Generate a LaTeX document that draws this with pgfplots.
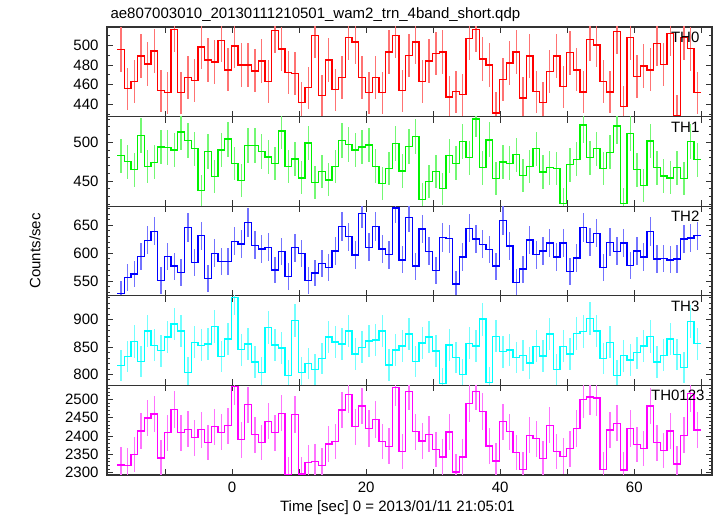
\documentclass[border=0pt]{standalone}
\usepackage{fontspec}
\setmainfont{Liberation Sans}
\usepackage{pgfplots}
\usepackage{pgfplotstable}
\pgfplotsset{compat=1.18}

% 1 s bins, t = left edge of each bin; last row repeats the last bin to close the step
\pgfplotstableread{
t a b c d e
-17.1 495.6 482.5 528 816 2321
-16.1 456 475 557 833 2319.5
-15.1 463 464.5 563 860 2349
-14.1 489 509 594.5 823.5 2414
-13.1 481 468.5 623 879 2449
-12.1 494 474 639 853 2460
-11.1 454 494 551 843 2340
-10.1 452 493 594.5 868 2409
-9.1 516 490 577 892 2472
-8.1 452 513 565 879 2409
-7.1 467 502 646 804 2418.5
-6.1 464 491.5 583 858.5 2395
-5.1 498 437.5 631 853 2417
-4.1 485 488 554.5 855.5 2382.5
-3.1 483 455.5 600 887.5 2425
-2.1 505 490 585 833 2410
-1.1 475 504 585 864.5 2428
-0.1 499 472.5 621 940 2535
0.9 480 451 616.5 845 2390
1.9 480 495.5 655 855.5 2485
2.9 474 495.5 614 822.5 2403.5
3.9 484 488 607.5 804 2382.5
4.9 463 481 610.5 886 2440
5.9 515 472.5 570 853.5 2409
6.9 496 514.5 603 848 2462
7.9 472 468.5 558.5 798.5 2295
8.9 471 478.5 609.5 898.5 2459
9.9 442 454 599 804 2296
10.9 457 499 551.5 820 2327
11.9 510 448.5 564.5 809 2329.5
12.9 449 462 582 829 2320
13.9 485 451.5 575 868 2378.5
14.9 455 468.5 604 859 2385
15.9 467 502 648 855.5 2471
16.9 508 497 629.5 879 2513
17.9 503 490 596.5 837 2425
18.9 467 494 671 849.5 2481.5
19.9 452 496.5 610.5 861 2420.5
20.9 467 469 648 863 2445
21.9 452 446.5 607.5 879 2385
22.9 493 466 597 817 2372
23.9 510 498 680.5 844.5 2531.5
24.9 454 463 588 852 2358
25.9 489.5 494.5 664 874 2522
26.9 503 507 577 824 2412
27.9 463 426.5 643 857.5 2386
28.9 484 449.5 603.5 868 2404.5
29.9 491.5 462 569 842.5 2363
30.9 493 440 628 783 2342.5
31.9 447.5 482.5 626 853.5 2411
32.9 453 473 545 831 2302
33.9 450 501 593 799.5 2342.5
34.9 507 480 644.5 857 2488
35.9 516 530 625 852 2522
36.9 486 467 616 901 2466.5
37.9 480 503 606.5 785 2373
38.9 431.5 453 577 869.5 2331.5
39.9 465 474.5 658 841.5 2439
40.9 482 473 612.5 844.5 2412
41.9 493 484 547.5 831 2355.5
42.9 446.5 457 571.5 834.5 2309
43.9 489 468.5 623.5 820.5 2402
44.9 453 491.5 597 851 2392.5
45.9 442 461.5 604 833.5 2338
46.9 473.5 467 618 874 2429.5
47.9 489 466 593 809 2357.5
48.9 458 421 618 851 2345
49.9 492.5 471 567.5 837 2365
50.9 475 478 591.5 875 2420.5
51.9 452.5 522 646 878 2499
52.9 506 480 619.5 901.5 2506.5
53.9 500 491.5 635.5 879 2503.5
54.9 463 466 575 829 2309
55.9 452.5 487 619.5 858.5 2416
56.9 514 521 603.5 798 2435
57.9 438 421 618 834 2307.5
58.9 507.5 511 577.5 826 2420.5
59.9 468.5 464.5 604 839.5 2377
60.9 479 444.5 593 852 2366
61.9 475 501.5 638.5 869 2481.5
62.9 501.5 467 589.5 822.5 2381.5
63.9 480.5 456.5 590 835 2360
64.9 512 454 588 864.5 2414
65.9 429 467 589.5 836.5 2324
66.9 508 453 625 812.5 2402
67.9 496.5 501 627 897 2516
68.9 452 477.5 631 856 2416
69.9 452 477.5 631 856 2416
}\lc

\definecolor{cA}{rgb}{1,0,0}
\definecolor{cB}{rgb}{0,0.95,0}
\definecolor{cC}{rgb}{0,0,1}
\definecolor{cD}{rgb}{0,1,1}
\definecolor{cE}{rgb}{1,0,1}

\pgfplotsset{
  panel/.style={
    scale only axis, width=605pt, height=89.6pt,
    anchor=south west,
    xmin=-18.66, xmax=71.6,
    xtick={-10,0,...,70}, xticklabels={},
    tick align=inside,
    major tick length=6pt, minor tick length=3pt,
    axis line style={line width=1.1pt, black!80},
    tick style={line width=0.7pt, black!80},
    font=\fontsize{15}{18}\selectfont,
    /pgf/number format/assume math mode=true,
    /pgf/number format/1000 sep={},
    scaled y ticks=false,
    yticklabel style={xshift=-5pt},
    xticklabel style={yshift=-3pt},
  },
  stepline/.style={const plot mark left, mark=none, line width=1.3pt, draw=#1},
  errbar/.style={draw=none, mark=none, forget plot,
    error bars/.cd, y dir=both, y explicit, error mark=none,
    error bar style={draw=#1!55!white, line width=1.4pt}},
}

\begin{document}
\begin{tikzpicture}
\useasboundingbox (0,0) rectangle (717pt,516pt);

\node[anchor=base west, font=\fontsize{15}{18}\selectfont] at (107pt,497pt)
  {ae807003010\_20130111210501\_wam2\_trn\_4band\_short.qdp};
\node[rotate=90, font=\fontsize{15}{18}\selectfont] at (35pt,265pt) {Counts/sec};
\node[anchor=base, font=\fontsize{15}{18}\selectfont] at (397.5pt,4.5pt)
  {Time [sec] 0 = 2013/01/11 21:05:01};

\begin{axis}[panel, at={(107pt,399.4pt)}, ymin=427.8, ymax=518.3,
  ytick={420,440,...,520}, minor y tick num=1]
  \addplot[errbar=cA] table[x expr=\thisrow{t}+0.5, y=a, y error expr={sqrt(\thisrow{a})}, skip coords between index={87}{88}] {\lc};
  \addplot[stepline=cA] table[x=t, y=a] {\lc};
  \node[anchor=base east] at (rel axis cs:0.985,0.825) {TH0};
\end{axis}

\begin{axis}[panel, at={(107pt,309.8pt)}, ymin=417.6, ymax=533,
  ytick={400,450,...,550}, minor y tick num=4]
  \addplot[errbar=cB] table[x expr=\thisrow{t}+0.5, y=b, y error expr={sqrt(\thisrow{b})}, skip coords between index={87}{88}] {\lc};
  \addplot[stepline=cB] table[x=t, y=b] {\lc};
  \node[anchor=base east] at (rel axis cs:0.985,0.825) {TH1};
\end{axis}

\begin{axis}[panel, at={(107pt,220.2pt)}, ymin=524, ymax=683.7,
  ytick={500,550,...,700}, minor y tick num=4]
  \addplot[errbar=cC] table[x expr=\thisrow{t}+0.5, y=c, y error expr={sqrt(\thisrow{c})}, skip coords between index={87}{88}] {\lc};
  \addplot[stepline=cC] table[x=t, y=c] {\lc};
  \node[anchor=base east] at (rel axis cs:0.985,0.825) {TH2};
\end{axis}

\begin{axis}[panel, at={(107pt,130.6pt)}, ymin=779.8, ymax=943.6,
  ytick={750,800,...,950}, minor y tick num=4]
  \addplot[errbar=cD] table[x expr=\thisrow{t}+0.5, y=d, y error expr={sqrt(\thisrow{d})}, skip coords between index={87}{88}] {\lc};
  \addplot[stepline=cD] table[x=t, y=d] {\lc};
  \node[anchor=base east] at (rel axis cs:0.985,0.825) {TH3};
\end{axis}

\begin{axis}[panel, at={(107pt,41pt)}, ymin=2293.6, ymax=2538,
  ytick={2250,2300,...,2550}, minor y tick num=4,
  xticklabels={,0,,20,,40,,60,}]
  \addplot[errbar=cE] table[x expr=\thisrow{t}+0.5, y=e, y error expr={sqrt(\thisrow{e})}, skip coords between index={87}{88}] {\lc};
  \addplot[stepline=cE] table[x=t, y=e] {\lc};
  \node[anchor=base east] at (rel axis cs:0.9934,0.835) {TH0123};
\end{axis}
\end{tikzpicture}
\end{document}
